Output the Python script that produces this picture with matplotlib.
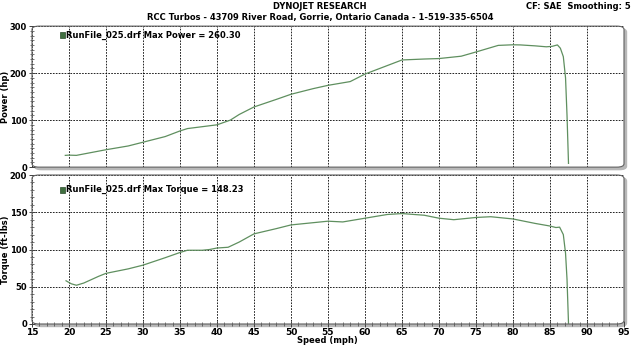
import matplotlib.pyplot as plt
import matplotlib.transforms as mtransforms
from matplotlib.patches import FancyBboxPatch, Rectangle
import numpy as np

# power run (hp) vs speed (mph)
speed_p = [19.5, 20, 21, 22, 24, 25, 28, 30, 33, 35, 36, 38, 40, 41.8, 43, 45, 48, 50,
           53, 55, 58, 60, 63, 65, 68, 70, 73, 75, 78, 80, 81, 83, 84.5, 85.3, 86.0,
           86.4, 86.8, 87.1, 87.3, 87.5]
power = [25, 25.5, 25, 28, 34, 37, 45, 53, 65, 77, 82, 86, 90, 100, 112, 128, 144, 155,
         167, 174, 182, 198, 216, 228, 230, 231, 236, 245, 259, 260.3, 260, 258, 256,
         257, 260, 253, 235, 190, 110, 8]

# torque (ft-lbs) vs speed (mph)
speed_t = [19.6, 20.3, 21, 22, 24, 25, 28, 30, 33, 35, 36, 38, 39, 40, 41.5, 43, 45, 48,
           50, 53, 55, 57, 60, 63, 65, 68, 70, 72, 75, 77, 80, 83, 85, 85.8, 86.3, 86.8,
           87.1, 87.3, 87.5]
torque = [58, 54, 52, 55, 64, 68, 74, 79, 89, 96, 99, 99, 100, 102, 103, 110, 121, 128,
          133, 136, 138, 137, 142, 147, 148.23, 146, 142, 140, 143, 144, 141, 135, 131.5,
          129.5, 130, 120, 95, 60, 1]

xticks = np.arange(15, 96, 5)
line_color = "#5f8f5f"

fig = plt.figure(figsize=(6.4, 3.46), dpi=100)
ax1 = fig.add_axes([0.05, 0.517, 0.925, 0.4075])
ax2 = fig.add_axes([0.05, 0.0636, 0.925, 0.4306])

def frame(ax):
    ax.set_facecolor("none")
    for s in ax.spines.values():
        s.set_visible(False)
    style = "round,pad=0,rounding_size=0.012"
    shadow_tr = mtransforms.offset_copy(ax.transAxes, fig=fig, x=2.5, y=-2.5, units="dots")
    fig.add_artist(FancyBboxPatch((0, 0), 1, 1, boxstyle=style, transform=shadow_tr,
                                  facecolor="#b8b8b8", edgecolor="#b8b8b8", linewidth=1,
                                  zorder=-3, mutation_aspect=2))
    fig.add_artist(FancyBboxPatch((0, 0), 1, 1, boxstyle=style, transform=ax.transAxes,
                                  facecolor="white", edgecolor="none", zorder=-2,
                                  mutation_aspect=2))
    ax.add_patch(FancyBboxPatch((0, 0), 1, 1, boxstyle=style, transform=ax.transAxes,
                                facecolor="none", edgecolor="#606060", linewidth=0.8,
                                clip_on=False, zorder=3, mutation_aspect=2))
    ax.set_xlim(15, 95)
    ax.set_xticks(xticks)
    ax.grid(True, color="black", linestyle=(0, (2, 1.5)), linewidth=0.6)
    ax.tick_params(axis="y", which="major", direction="inout", length=4, width=0.7,
                   color="#404040", labelsize=6, pad=1.5)
    ax.tick_params(axis="y", which="minor", direction="inout", length=2.5, width=0.5,
                   color="#404040")
    for lab in ax.get_yticklabels():
        lab.set_fontweight("bold")
    ax.yaxis.set_label_coords(-0.038, 0.5)

# top: power
ax1.plot(speed_p, power, color=line_color, linewidth=0.9, zorder=2)
ax1.set_ylim(0, 300)
ax1.set_yticks([0, 100, 200, 300])
ax1.set_yticks(np.arange(0, 301, 10), minor=True)
ax1.tick_params(axis="x", which="both", length=0, labelbottom=False)
frame(ax1)
ax1.set_ylabel("Power (hp)", fontsize=6, fontweight="bold")
ax1.add_patch(Rectangle((0.047, 0.915), 0.008, 0.04, transform=ax1.transAxes,
                        facecolor="#3f6f3f", edgecolor="#2a4a2a", linewidth=0.5))
ax1.text(0.057, 0.935, "RunFile_025.drf Max Power = 260.30", transform=ax1.transAxes,
         fontsize=6, fontweight="bold", va="center", ha="left")

# bottom: torque
ax2.plot(speed_t, torque, color=line_color, linewidth=0.9, zorder=2)
ax2.set_ylim(0, 200)
ax2.set_yticks([0, 50, 100, 150, 200])
ax2.set_yticks(np.arange(0, 201, 10), minor=True)
ax2.set_xticks(np.arange(15, 96, 1), minor=True)
ax2.tick_params(axis="x", which="major", direction="inout", length=4, width=0.7,
                color="#404040", labelsize=6.5, pad=1)
ax2.tick_params(axis="x", which="minor", direction="inout", length=2.5, width=0.5,
                color="#404040")
frame(ax2)
for lab in ax2.get_xticklabels():
    lab.set_fontweight("bold")
ax2.set_ylabel("Torque (ft-lbs)", fontsize=6, fontweight="bold")
ax2.add_patch(Rectangle((0.047, 0.88), 0.008, 0.04, transform=ax2.transAxes,
                        facecolor="#3f6f3f", edgecolor="#2a4a2a", linewidth=0.5))
ax2.text(0.057, 0.9, "RunFile_025.drf Max Torque = 148.23", transform=ax2.transAxes,
         fontsize=6, fontweight="bold", va="center", ha="left")

# header texts and x label
fig.text(0.5, 0.982, "DYNOJET RESEARCH", ha="center", va="center", fontsize=6,
         fontweight="bold")
fig.text(0.5, 0.95, "RCC Turbos - 43709 River Road, Gorrie, Ontario Canada - 1-519-335-6504",
         ha="center", va="center", fontsize=6, fontweight="bold")
fig.text(0.822, 0.982, "CF: SAE  Smoothing: 5", ha="left", va="center", fontsize=6,
         fontweight="bold")
fig.text(0.512, 0.003, "Speed (mph)", ha="center", va="bottom", fontsize=6,
         fontweight="bold")

fig.savefig("out.png", dpi=100)
